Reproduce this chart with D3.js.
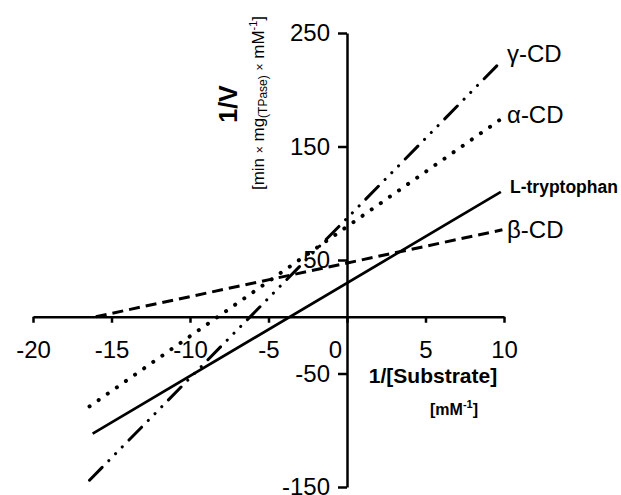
<!DOCTYPE html>
<html>
<head>
<meta charset="utf-8">
<script src="https://cdn.jsdelivr.net/npm/d3@7"></script>
<style>
  body { margin: 0; background: #fff; }
  svg { font-family: Arial, "Liberation Sans", sans-serif; }
</style>
</head>
<body>
<div id="chart"></div>
<script>
// Data: each line is given by its two end points
var series = ['γ-CD', 'α-CD', 'L-tryptophan', 'β-CD'];
var xStart = [-16.4, -16.4, -16.2, -16.0];
var xEnd   = [9.75, 9.9, 9.8, 9.9];
var yStart = [-144, -79, -103, 0];
var yEnd   = [224, 175, 110, 76.6];

var xTicks = [-20, -15, -10, -5, 0, 5, 10];
var yTicks = [250, 150, 50, -50, -150];

var width = 621, height = 495;

var svg = d3.select('#chart')
  .append('svg')
  .attr('width', width)
  .attr('height', height);

var x = d3.scaleLinear().domain([-20, 10]).range([33, 504]);
var y = d3.scaleLinear().domain([-150, 250]).range([487, 33]);

// x axis through y = 0
var xAxis = svg.append('g')
  .attr('transform', 'translate(0,' + y(0) + ')')
  .call(d3.axisBottom(x).tickValues(xTicks).tickFormat(d => String(d))
    .tickSize(6).tickSizeOuter(0).tickPadding(18));

xAxis.selectAll('text')
  .attr('dx', d => d === 0 ? -12 : 0);

// y axis through x = 0
var yAxis = svg.append('g')
  .attr('transform', 'translate(' + x(0) + ',0)')
  .call(d3.axisLeft(y).tickValues(yTicks).tickFormat(d => String(d))
    .tickSize(9).tickSizeOuter(0).tickPadding(8));

svg.selectAll('.domain, .tick line')
  .attr('stroke', '#000')
  .attr('stroke-width', 2.5);

svg.selectAll('.tick text')
  .attr('fill', '#000')
  .style('font-size', '24px');

// line styles
var dashes = ['18,9.5,0.1,9.5,0.1,9.5,0.1,9.5', '0.1,11', null, '11,6'];
var caps = ['round', 'round', 'butt', 'butt'];
var widths = [3, 4, 2.7, 3];

series.forEach(function(name, i) {
  svg.append('line')
    .attr('x1', x(xStart[i]))
    .attr('y1', y(yStart[i]))
    .attr('x2', x(xEnd[i]))
    .attr('y2', y(yEnd[i]))
    .attr('stroke', '#000')
    .attr('stroke-width', widths[i])
    .attr('stroke-linecap', caps[i])
    .attr('stroke-dasharray', dashes[i]);
});

// series labels
var labelY = [62, 123, 193, 238];
series.forEach(function(name, i) {
  var t = svg.append('text')
    .attr('x', i === 2 ? 510 : 507)
    .attr('y', labelY[i])
    .text(name);
  if (i === 2) {
    t.style('font-size', '17.5px').style('font-weight', 'bold');
  } else {
    t.style('font-size', '24px');
  }
});

// y axis titles
svg.append('text')
  .attr('transform', 'translate(237,104) rotate(-90)')
  .attr('text-anchor', 'middle')
  .style('font-size', '25px')
  .style('font-weight', 'bold')
  .text('1/V');

var sub = svg.append('text')
  .attr('transform', 'translate(264,103) rotate(-90)')
  .attr('text-anchor', 'middle')
  .style('font-size', '17px');
sub.append('tspan').text('[min ');
sub.append('tspan').style('font-size', '12px').text('×');
sub.append('tspan').text(' mg');
sub.append('tspan').attr('dy', 3).style('font-size', '12px').text('(TPase)');
sub.append('tspan').attr('dy', -3).text(' ');
sub.append('tspan').style('font-size', '12px').text('×');
sub.append('tspan').text(' mM');
sub.append('tspan').attr('dy', -7).style('font-size', '11px').text('-1');
sub.append('tspan').attr('dy', 7).text(']');

// x axis titles
svg.append('text')
  .attr('x', 433)
  .attr('y', 383)
  .attr('text-anchor', 'middle')
  .style('font-size', '21px')
  .style('font-weight', 'bold')
  .text('1/[Substrate]');

var xsub = svg.append('text')
  .attr('x', 454)
  .attr('y', 415)
  .attr('text-anchor', 'middle')
  .style('font-size', '16px')
  .style('font-weight', 'bold');
xsub.append('tspan').text('[mM');
xsub.append('tspan').attr('dy', -7).style('font-size', '11px').text('-1');
xsub.append('tspan').attr('dy', 7).text(']');
</script>
</body>
</html>
